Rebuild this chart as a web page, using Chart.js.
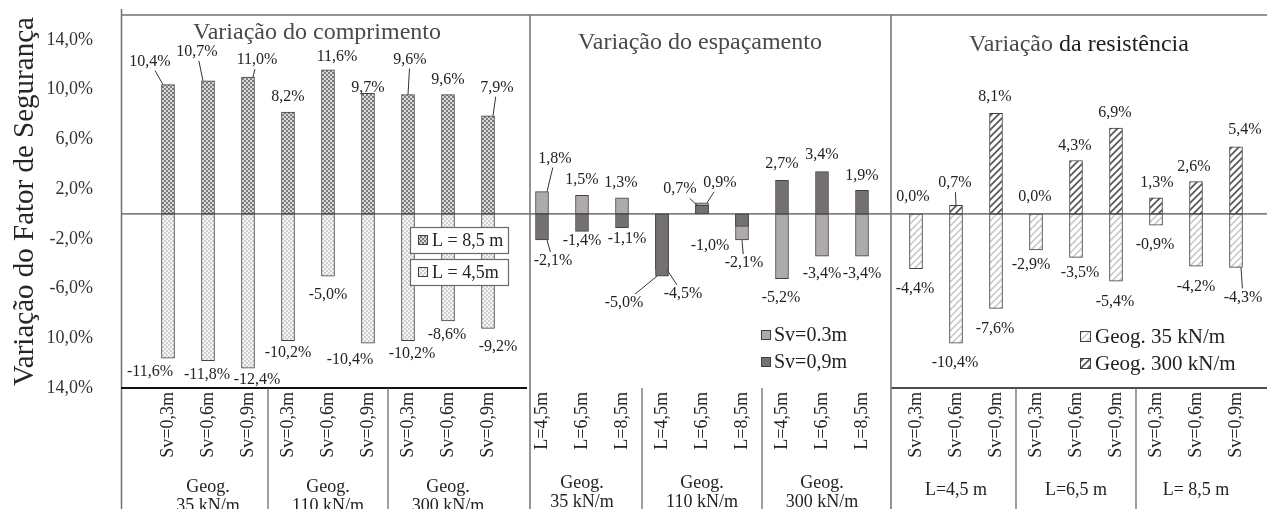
<!DOCTYPE html>
<html lang="pt">
<head>
<meta charset="utf-8">
<title>Variação do Fator de Segurança</title>
<script src="https://cdn.jsdelivr.net/npm/chart.js@4.4.1/dist/chart.umd.min.js"></script>
<style>
  html, body { margin: 0; padding: 0; background: #fff; }
  #chart { display: block; }
</style>
</head>
<body>
<canvas id="chart" width="1267" height="509"></canvas>
<script>
// ---- dados ----
const categories = [
  'Sv=0,3m', 'Sv=0,6m', 'Sv=0,9m', 'Sv=0,3m', 'Sv=0,6m', 'Sv=0,9m', 'Sv=0,3m', 'Sv=0,6m', 'Sv=0,9m',
  'L=4,5m', 'L=6,5m', 'L=8,5m', 'L=4,5m', 'L=6,5m', 'L=8,5m', 'L=4,5m', 'L=6,5m', 'L=8,5m',
  'Sv=0,3m', 'Sv=0,6m', 'Sv=0,9m', 'Sv=0,3m', 'Sv=0,6m', 'Sv=0,9m', 'Sv=0,3m', 'Sv=0,6m', 'Sv=0,9m'
];
const groupLabels = [
  ['Geog.', '35 kN/m'], ['Geog.', '110 kN/m'], ['Geog.', '300 kN/m'],
  ['Geog.', '35 kN/m'], ['Geog.', '110 kN/m'], ['Geog.', '300 kN/m'],
  ['L=4,5 m'], ['L=6,5 m'], ['L= 8,5 m']
];
const sectionTitles = ['Variação do comprimento', 'Variação do espaçamento', 'Variação da resistência'];
const yTickValues = [-14, -10, -6, -2, 2, 6, 10, 14];
const yTickLabels = ['14,0%', '10,0%', '-6,0%', '-2,0%', '2,0%', '6,0%', '10,0%', '14,0%'];

// Variação do comprimento
const compL85 = [10.4, 10.7, 11.0, 8.2, 11.6, 9.7, 9.6, 9.6, 7.9];
const compL45 = [-11.6, -11.8, -12.4, -10.2, -5.0, -10.4, -10.2, -8.6, -9.2];
// Variação do espaçamento
const espSv03 = [1.8, 1.5, 1.3, -4.5, 0.9, -2.1, -5.2, -3.4, -3.4];
const espSv09 = [-2.1, -1.4, -1.1, -5.0, 0.7, -1.0, 2.7, 3.4, 1.9];
// Variação da resistência
const resG35 = [-4.4, -10.4, -7.6, -2.9, -3.5, -5.4, -0.9, -4.2, -4.3];
const resG300 = [0.0, 0.7, 8.1, 0.0, 4.3, 6.9, 1.3, 2.6, 5.4];

// deslocamento dos rótulos de dados [dx, dy, linha de chamada]
const nudgeL85 = [[-18, -8, 1], [-11, -14, 1], [9, -2, 1], [0, 0], [9, 2], [0, 9], [2, -20, 1], [0, 0], [9, -13, 1]];
const nudgeL45 = [[-18, -1], [-1, -1], [9, -3], [0, -3], [0, 4], [-18, 2], [4, -2], [-1, -1], [10, 3]];
const nudgeSv09 = [[11, 6, 1], [0, -6], [5, -4], [-38, 12, 1], [-22, -1, 1], [-32, 4], [0, -2], [0, -2], [0, 0]];
const nudgeSv03 = [[13, -18, 1], [0, 0], [-1, 0], [21, 9, 1], [18, -5, 1], [2, 8, 1], [-1, 4], [0, 3], [0, 3]];
const nudgeG35 = [[-1, 5], [-1, 5], [-1, 5], [-5, 0], [4, 0], [-1, 6], [-1, 5], [0, 6], [7, 15, 1]];
const nudgeG300 = [[-3, -2], [-1, -7, 1], [-1, -1], [-1, -2], [-1, 0], [-1, 0], [1, 0], [-2, 0], [9, -2]];

// ---- layout ----
const FONT = "'Liberation Serif', 'Times New Roman', serif";
const PER_SECTION = 9, N_SECTIONS = 3;
const SECTION_GAP = 0.35;          // espaço extra entre os painéis (em categorias)
const AXIS_PAD = [1.15, 0.775];    // margem antes / depois (em categorias)
const LAYOUT = {
  dividerShift: [15, 2],
  titles: [{ dx: -11, y: 33 }, { dx: -2, y: 43 }, { dx: 3, y: 45 }],
  groupY: [487, 483, 490],
  legends: [
    { items: [0, 1], x: 410, y: 240, step: 32, size: 18, sw: 10, sx: 8, tx: 22, boxed: true, boxW: 98, boxH: 26 },
    { items: [3, 2], x: 761, y: 335, step: 27, size: 20, sw: 10, sx: 0, tx: 13 },
    { items: [5, 4], x: 1080, y: 336, step: 27, size: 21, sw: 11, sx: 0, tx: 15 }
  ]
};

Chart.defaults.font.family = FONT;

// escala de categorias com espaço entre os painéis
class GapCategoryScale extends Chart.CategoryScale {
  getPixelForValue(value) {
    if (typeof value !== 'number') value = this.parse(value);
    if (value === null || value === undefined || isNaN(value)) return NaN;
    const section = Math.floor(value / PER_SECTION);
    const units = AXIS_PAD[0] + value + section * SECTION_GAP;
    const total = AXIS_PAD[0] + (this.getLabels().length - 1) + (N_SECTIONS - 1) * SECTION_GAP + AXIS_PAD[1];
    return this.getPixelForDecimal(units / total);
  }
}
GapCategoryScale.id = 'gapCategory';
Chart.register(GapCategoryScale);

// padrões de preenchimento
function makePattern(size, draw) {
  const c = document.createElement('canvas');
  c.width = c.height = size;
  const g = c.getContext('2d');
  draw(g, size);
  return g.createPattern(c, 'repeat');
}
const checker = (a, b) => makePattern(4, (g) => {
  g.fillStyle = b; g.fillRect(0, 0, 4, 4);
  g.fillStyle = a; g.fillRect(0, 0, 2, 2); g.fillRect(2, 2, 2, 2);
});
const hatch = (color, w) => makePattern(7, (g, s) => {
  g.fillStyle = '#fff'; g.fillRect(0, 0, s, s);
  g.strokeStyle = color; g.lineWidth = w;
  g.beginPath();
  g.moveTo(0, s); g.lineTo(s, 0);
  g.moveTo(-1, 1); g.lineTo(1, -1);
  g.moveTo(s - 1, s + 1); g.lineTo(s + 1, s - 1);
  g.stroke();
});
const checkDark = checker('#7c7c7c', '#dadada');
const checkLight = checker('#d0d0d0', '#f6f6f6');
const hatchDark = hatch('#5a5a5a', 1.8);
const hatchLight = hatch('#c4c4c4', 1.5);

function pad(section, values) {
  const out = new Array(categories.length).fill(null);
  values.forEach((v, k) => { out[section * PER_SECTION + k] = v; });
  return out;
}

const datasets = [
  { label: 'L = 8,5 m', values: compL85, nudge: nudgeL85, section: 0, backgroundColor: checkDark },
  { label: 'L = 4,5m', values: compL45, nudge: nudgeL45, section: 0, backgroundColor: checkLight },
  { label: 'Sv=0,9m', values: espSv09, nudge: nudgeSv09, section: 1, backgroundColor: '#767171' },
  { label: 'Sv=0.3m', values: espSv03, nudge: nudgeSv03, section: 1, backgroundColor: '#aeaaaa' },
  { label: 'Geog. 300 kN/m', values: resG300, nudge: nudgeG300, section: 2, backgroundColor: hatchDark },
  { label: 'Geog. 35 kN/m', values: resG35, nudge: nudgeG35, section: 2, backgroundColor: hatchLight }
].map(d => Object.assign(d, {
  data: pad(d.section, d.values),
  borderColor: '#404040', borderWidth: 1, borderSkipped: false,
  grouped: false, barThickness: 13
}));

const fmt = v => v.toFixed(1).replace('.', ',') + '%';

function hline(ctx, x1, x2, y, color, w) {
  ctx.strokeStyle = color; ctx.lineWidth = w;
  ctx.beginPath(); ctx.moveTo(x1, y); ctx.lineTo(x2, y); ctx.stroke();
}
function vline(ctx, x, y1, y2, color, w) {
  ctx.strokeStyle = color; ctx.lineWidth = w;
  ctx.beginPath(); ctx.moveTo(x, y1); ctx.lineTo(x, y2); ctx.stroke();
}

const decorPlugin = {
  id: 'decor',
  afterDatasetsDraw(chart) {
    const { ctx, chartArea: ca, scales: { x, y } } = chart;
    const H = chart.height;
    const mid = i => (x.getPixelForValue(i - 1) + x.getPixelForValue(i)) / 2;
    const secEdge = s => mid(s * PER_SECTION) + LAYOUT.dividerShift[s - 1];
    ctx.save();

    // linha do zero, moldura e divisões
    hline(ctx, ca.left - 1, ca.right, y.getPixelForValue(0), '#505050', 1.2);
    hline(ctx, ca.left - 1, ca.right, ca.top, '#707070', 1.5);
    vline(ctx, ca.left - 0.5, ca.top - 6, H, '#707070', 1.5);
    hline(ctx, ca.left - 1, secEdge(1) - 3, ca.bottom, '#111', 2);
    hline(ctx, secEdge(2), ca.right, ca.bottom, '#111', 1.5);
    for (let s = 1; s < N_SECTIONS; s++) vline(ctx, secEdge(s), ca.top, H, '#707070', 1.5);
    for (let g = 1; g < groupLabels.length; g++) {
      if (g % 3 === 0) continue;
      vline(ctx, mid(g * 3), ca.bottom, H, '#606060', 1.2);
    }

    // rótulos de dados
    ctx.font = '16px ' + FONT;
    ctx.fillStyle = '#222';
    ctx.strokeStyle = '#333';
    ctx.lineWidth = 1;
    ctx.textAlign = 'center';
    ctx.textBaseline = 'middle';
    chart.data.datasets.forEach((ds, di) => {
      const meta = chart.getDatasetMeta(di);
      ds.values.forEach((v, k) => {
        const el = meta.data[ds.section * PER_SECTION + k];
        const [dx, dy, lead] = ds.nudge[k];
        const lx = el.x + dx;
        const ly = el.y + (v >= 0 ? -15 : 15) + dy;
        const text = fmt(v);
        ctx.fillText(text, lx, ly);
        if (lead) {
          const w = ctx.measureText(text).width;
          const bx = lx < el.x - 6 ? el.x - 5 : (lx > el.x + 6 ? el.x + 5 : el.x);
          const ddx = bx - lx, ddy = el.y - ly;
          const t = Math.min(ddx ? (w / 2 + 2) / Math.abs(ddx) : Infinity, ddy ? 9 / Math.abs(ddy) : Infinity);
          if (t < 1) {
            ctx.beginPath();
            ctx.moveTo(lx + ddx * t, ly + ddy * t);
            ctx.lineTo(bx, el.y);
            ctx.stroke();
          }
        }
      });
    });
    ctx.restore();
  },
  afterDraw(chart) {
    const { ctx, scales: { x } } = chart;
    ctx.save();
    ctx.textBaseline = 'middle';

    // títulos dos painéis
    ctx.font = '24px ' + FONT;
    sectionTitles.forEach((t, s) => {
      const cx = (x.getPixelForValue(s * PER_SECTION) + x.getPixelForValue(s * PER_SECTION + PER_SECTION - 1)) / 2 + LAYOUT.titles[s].dx;
      const ty = LAYOUT.titles[s].y;
      if (s === N_SECTIONS - 1) {
        const first = t.split(' ')[0], rest = t.slice(first.length);
        const w1 = ctx.measureText(first).width, w = ctx.measureText(t).width;
        ctx.textAlign = 'left';
        ctx.fillStyle = '#4a4a4a';
        ctx.fillText(first, cx - w / 2, ty);
        ctx.fillStyle = '#1e1e1e';
        ctx.fillText(rest, cx - w / 2 + w1, ty);
      } else {
        ctx.textAlign = 'center';
        ctx.fillStyle = '#4a4a4a';
        ctx.fillText(t, cx, ty);
      }
    });

    // rótulos dos grupos no eixo x
    ctx.font = '18px ' + FONT;
    ctx.fillStyle = '#222';
    ctx.textAlign = 'center';
    groupLabels.forEach((lines, g) => {
      const cx = x.getPixelForValue(g * 3 + 1);
      const y0 = LAYOUT.groupY[Math.floor(g / 3)];
      lines.forEach((ln, j) => ctx.fillText(ln, cx, y0 + j * 19));
    });

    // legendas
    LAYOUT.legends.forEach(L => {
      ctx.font = L.size + 'px ' + FONT;
      L.items.forEach((di, r) => {
        const ds = chart.data.datasets[di];
        const cy = L.y + r * L.step;
        if (L.boxed) {
          ctx.fillStyle = '#fff';
          ctx.fillRect(L.x, cy - L.boxH / 2, L.boxW, L.boxH);
          ctx.strokeStyle = '#6a6a6a'; ctx.lineWidth = 1.2;
          ctx.strokeRect(L.x + 0.5, cy - L.boxH / 2 + 0.5, L.boxW, L.boxH);
        }
        const sx = L.x + L.sx, sy = Math.round(cy - L.sw / 2);
        ctx.fillStyle = ds.backgroundColor;
        ctx.fillRect(sx, sy, L.sw, L.sw);
        ctx.strokeStyle = '#404040'; ctx.lineWidth = 1;
        ctx.strokeRect(sx + 0.5, sy + 0.5, L.sw - 1, L.sw - 1);
        ctx.fillStyle = '#222';
        ctx.textAlign = 'left';
        ctx.fillText(ds.label, L.x + L.tx, cy + 1);
      });
    });
    ctx.restore();
  }
};

new Chart(document.getElementById('chart'), {
  type: 'bar',
  data: { labels: categories, datasets },
  options: {
    responsive: false,
    animation: false,
    events: [],
    devicePixelRatio: 1,
    layout: { padding: { top: 15, left: 0, right: 0, bottom: 0 } },
    plugins: { legend: { display: false }, tooltip: { enabled: false } },
    scales: {
      x: {
        type: 'gapCategory',
        grid: { display: false, drawTicks: false },
        border: { display: false },
        ticks: { autoSkip: false, minRotation: 90, maxRotation: 90, padding: 4, color: '#222', font: { size: 18 } },
        afterFit: s => { s.height = 121; s.paddingLeft = 0; s.paddingRight = 0; }
      },
      y: {
        min: -14,
        max: 16,
        afterBuildTicks: s => { s.ticks = yTickValues.map(v => ({ value: v })); },
        grid: { display: false, drawTicks: false },
        border: { display: false },
        ticks: { padding: 29, color: '#333', font: { size: 18 }, callback: (v, i) => yTickLabels[i] },
        title: {
          display: true,
          text: 'Variação do Fator de Segurança',
          color: '#262626',
          font: { size: 29 },
          padding: { top: 8, bottom: 0 }
        },
        afterFit: s => { s.width = 122; s.paddingTop = 0; s.paddingBottom = 0; }
      }
    }
  },
  plugins: [decorPlugin]
});
</script>
</body>
</html>
